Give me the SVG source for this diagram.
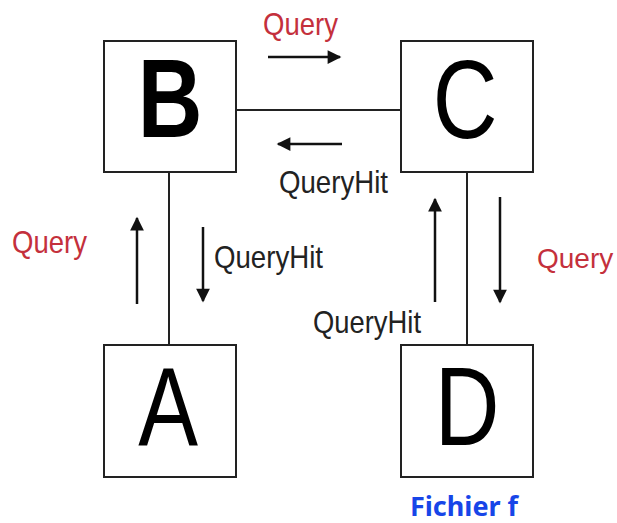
<svg xmlns="http://www.w3.org/2000/svg" width="617" height="523" viewBox="0 0 617 523">
<style>
.box{fill:#fff;stroke:#222;stroke-width:2}
.ln{stroke:#222;stroke-width:2;fill:none}
.ar{stroke:#111;stroke-width:2.5;fill:none}
.big{font-family:"Liberation Sans",Arial,sans-serif;font-size:112px;fill:#000;text-anchor:middle}
.lbl{font-family:"Liberation Sans",Arial,sans-serif;font-size:32px;fill:#222}
.red{fill:#c4303c}
</style>
<defs>
<marker id="ah" viewBox="0 0 10 10" refX="9" refY="5" markerWidth="7" markerHeight="5.5" markerUnits="strokeWidth" orient="auto">
<path d="M0,0 L10,5 L0,10 z" fill="#111"/>
</marker>
</defs>
<rect width="617" height="523" fill="#fff"/>
<g id="connectors">
<line class="ln" x1="236" y1="110" x2="401" y2="110"/>
<line class="ln" x1="169" y1="172" x2="169" y2="345"/>
<line class="ln" x1="467" y1="172" x2="467" y2="345"/>
<line class="ar" x1="268" y1="57" x2="340" y2="57" marker-end="url(#ah)"/>
<line class="ar" x1="342" y1="144" x2="278" y2="144" marker-end="url(#ah)"/>
<line class="ar" x1="137" y1="304" x2="137" y2="218" marker-end="url(#ah)"/>
<line class="ar" x1="203" y1="227" x2="203" y2="301" marker-end="url(#ah)"/>
<line class="ar" x1="435" y1="302" x2="435" y2="199" marker-end="url(#ah)"/>
<line class="ar" x1="500" y1="197" x2="500" y2="302" marker-end="url(#ah)"/>
<text class="lbl red" x="263" y="35" textLength="75" lengthAdjust="spacingAndGlyphs">Query</text>
<text class="lbl" x="279" y="193" textLength="109" lengthAdjust="spacingAndGlyphs">QueryHit</text>
<text class="lbl red" x="12" y="253" textLength="75" lengthAdjust="spacingAndGlyphs">Query</text>
<text class="lbl" x="214" y="268" textLength="109" lengthAdjust="spacingAndGlyphs">QueryHit</text>
<text class="lbl red" x="537" y="268" style="font-size:28px">Query</text>
<text class="lbl" x="313" y="333" textLength="108" lengthAdjust="spacingAndGlyphs">QueryHit</text>
</g>
<g id="B">
<rect class="box" x="104" y="41" width="132" height="131"/>
<text class="big" font-weight="bold" transform="translate(170,137) scale(0.8,1)">B</text>
</g>
<g id="C">
<rect class="box" x="401" y="41" width="132" height="131"/>
<text class="big" transform="translate(465,138) scale(0.8,1)">C</text>
</g>
<g id="A">
<rect class="box" x="104" y="345" width="132" height="132"/>
<text class="big" transform="translate(168,445) scale(0.8,1)">A</text>
</g>
<g id="D">
<rect class="box" x="401" y="345" width="132" height="132"/>
<text class="big" transform="translate(467,445) scale(0.8,1)">D</text>
</g>
<text x="464" y="516" text-anchor="middle" font-family="'Noto Sans','DejaVu Sans',sans-serif" font-weight="bold" font-size="27" fill="#1745e8">Fichier f</text>
</svg>
